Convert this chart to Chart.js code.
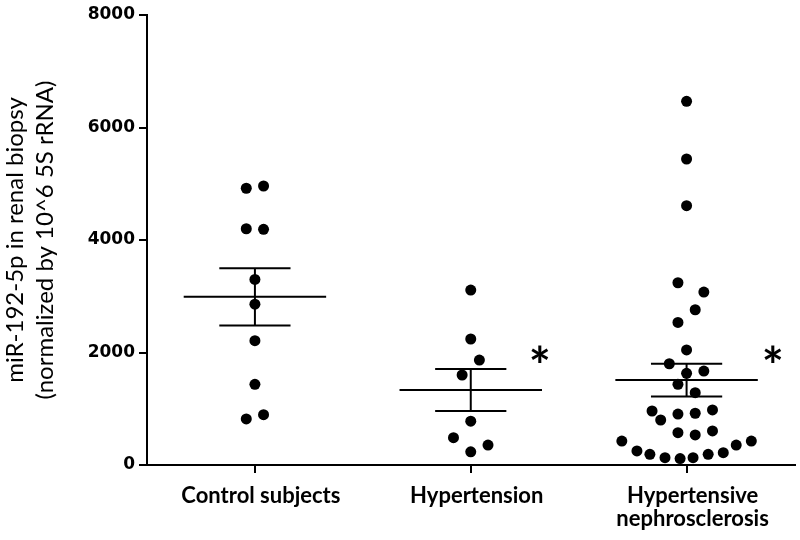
<!DOCTYPE html>
<html>
<head>
<meta charset="utf-8">
<title>miR-192-5p in renal biopsy</title>
<script src="https://cdn.jsdelivr.net/npm/chart.js@4.4.0/dist/chart.umd.min.js"></script>
<style>
  body { margin: 0; background: #fff; }
  #wrap { width: 800px; height: 540px; }
</style>
</head>
<body>
<div id="wrap"><canvas id="dotChart" width="800" height="540"></canvas></div>
<script>
// Groups along the x axis
const groups = ['Control subjects', 'Hypertension', ['Hypertensive', 'nephrosclerosis']];

// Individual values per group
const controlValues = [4920, 4960, 4200, 4190, 3300, 2860, 2210, 1435, 820, 895];
const hypertensionValues = [3110, 2240, 1865, 1600, 780, 485, 355, 235];
const nephroValues = [6465, 5440, 4610, 3240, 3075, 2760, 2535, 2045, 1800, 1630, 1670, 1435, 1285,
    960, 980, 800, 905, 920, 575, 535, 605, 425, 425, 355, 250, 190, 130, 115, 130, 190, 220];

// Sideways spread of the dots within a group (in group units)
const controlJitter = [-0.04, 0.04, -0.04, 0.04, 0, 0, 0, 0, -0.04, 0.04];
const hypertensionJitter = [0, 0, 0.04, -0.04, 0, -0.08, 0.08, 0];
const nephroJitter = [0, 0, 0, -0.04, 0.08, 0.04, -0.04, 0, -0.08, 0, 0.08, -0.04, 0.04,
    -0.16, 0.12, -0.12, -0.04, 0.04, -0.04, 0.04, 0.12, -0.3, 0.3, 0.23, -0.23, -0.17, -0.1, -0.03, 0.03, 0.1, 0.17];

// Mean and SEM for each group
const groupMeans = [2990, 1335, 1510];
const groupSems = [510, 373, 290];

// Significance marks next to each group
const sigMarks = ['', '*', '*'];
const sigLevel = 1950;

// Y axis ticks
const yTicks = [0, 2000, 4000, 6000, 8000];

const allValues = [controlValues, hypertensionValues, nephroValues];
const allJitter = [controlJitter, hypertensionJitter, nephroJitter];

// Turn a group's values into scatter points
function dotPoints(g) {
    return allValues[g].map((v, i) => ({ x: g + allJitter[g][i], y: v }));
}

// Mean line, SEM caps and the vertical bar, split by null gaps
function meanSemPoints(g) {
    const m = groupMeans[g];
    const s = groupSems[g];
    return [
        { x: g - 0.33, y: m }, { x: g + 0.33, y: m }, { x: g, y: null },
        { x: g - 0.165, y: m + s }, { x: g + 0.165, y: m + s }, { x: g, y: null },
        { x: g - 0.165, y: m - s }, { x: g + 0.165, y: m - s }, { x: g, y: null },
        { x: g, y: m + s }, { x: g, y: m - s }
    ];
}

// Draws the asterisks beside the groups
const sigMarkPlugin = {
    id: 'sigMarks',
    afterDatasetsDraw(chart) {
        const { ctx, scales: { x, y } } = chart;
        const offsets = [0.32, 0.32, 0.40];
        const size = 52;
        ctx.save();
        ctx.font = 'bold ' + size + 'px Lato';
        ctx.fillStyle = '#000';
        ctx.textAlign = 'center';
        ctx.textBaseline = 'middle';
        sigMarks.forEach((mark, g) => {
            if (!mark) return;
            ctx.fillText(mark, x.getPixelForValue(g + offsets[g]), y.getPixelForValue(sigLevel) + size * 0.24);
        });
        ctx.restore();
    }
};

const datasets = [];
groups.forEach((name, g) => {
    datasets.push({
        label: Array.isArray(name) ? name.join(' ') : name,
        data: dotPoints(g),
        pointRadius: 5.5,
        pointHoverRadius: 5.5,
        backgroundColor: '#000',
        borderWidth: 0
    });
    datasets.push({
        label: 'mean ± SEM',
        data: meanSemPoints(g),
        showLine: true,
        spanGaps: false,
        pointRadius: 0,
        borderColor: '#000',
        borderWidth: 2
    });
});

const ctx = document.querySelector('#dotChart').getContext('2d');
new Chart(ctx, {
    type: 'scatter',
    data: { datasets: datasets },
    options: {
        responsive: false,
        animation: false,
        events: [],
        layout: { padding: { top: 15, right: 5, left: 0, bottom: 0 } },
        plugins: { legend: { display: false }, tooltip: { enabled: false } },
        scales: {
            x: {
                type: 'linear',
                min: -0.5,
                max: 2.5,
                afterBuildTicks: scale => { scale.ticks = groups.map((n, i) => ({ value: i })); },
                afterFit: scale => { scale.height = 75; },
                ticks: {
                    callback: value => groups[value],
                    color: '#000',
                    padding: 12,
                    labelOffset: 6,
                    autoSkip: false,
                    maxRotation: 0,
                    font: { family: 'Lato', size: 22, weight: 'bold', lineHeight: 1.02 }
                },
                grid: { drawOnChartArea: false, drawTicks: true, tickLength: 8, color: '#000', lineWidth: 2 },
                border: { display: true, color: '#000', width: 2 }
            },
            y: {
                min: 0,
                max: 8000,
                afterBuildTicks: scale => { scale.ticks = yTicks.map(v => ({ value: v })); },
                afterFit: scale => { scale.width = 147; },
                ticks: {
                    callback: value => String(value),
                    color: '#000',
                    padding: 4,
                    font: { family: 'DejaVu Sans', size: 17, weight: 'bold' }
                },
                grid: { drawOnChartArea: false, drawTicks: true, tickLength: 8, color: '#000', lineWidth: 2 },
                border: { display: true, color: '#000', width: 2 },
                title: {
                    display: true,
                    text: ['miR-192-5p in renal biopsy', '(normalized by 10^6 5S rRNA)'],
                    color: '#000',
                    padding: 0,
                    font: { family: 'Lato', size: 24, lineHeight: 1.25 }
                }
            }
        }
    },
    plugins: [sigMarkPlugin]
});
</script>
</body>
</html>
